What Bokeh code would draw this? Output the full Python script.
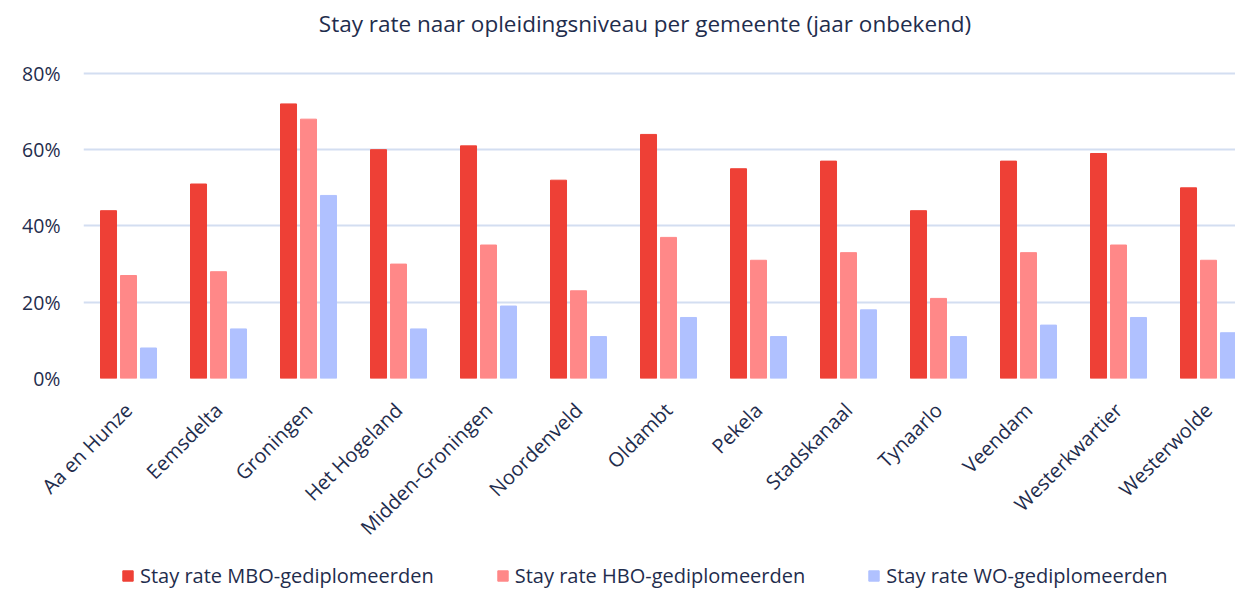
import math
from bokeh.plotting import figure
from bokeh.layouts import column
from bokeh.models import ColumnDataSource, Range1d, FixedTicker, Legend, LegendItem, Label
from bokeh.transform import dodge
from bokeh.embed import file_html
from bokeh.resources import INLINE

gemeenten = ["Aa en Hunze", "Eemsdelta", "Groningen", "Het Hogeland", "Midden-Groningen",
             "Noordenveld", "Oldambt", "Pekela", "Stadskanaal", "Tynaarlo", "Veendam",
             "Westerkwartier", "Westerwolde"]
mbo = [44, 51, 72, 60, 61, 52, 64, 55, 57, 44, 57, 59, 50]
hbo = [27, 28, 68, 30, 35, 23, 37, 31, 33, 21, 33, 35, 31]
wo = [8, 13, 48, 13, 19, 11, 16, 11, 18, 11, 14, 16, 12]
y_ticks = [0, 20, 40, 60, 80]
y_labels = ["0%", "20%", "40%", "60%", "80%"]
series_names = ["Stay rate MBO-gediplomeerden", "Stay rate HBO-gediplomeerden", "Stay rate WO-gediplomeerden"]
title_text = "Stay rate naar opleidingsniveau per gemeente (jaar onbekend)"
colors = ["#EE4036", "#FF8888", "#B0C1FF"]

TXT = "#1F2D4D"
FONT = "Open Sans"
W = 1235

idx = list(range(len(gemeenten)))
src = ColumnDataSource(dict(x=idx, mbo=mbo, hbo=hbo, wo=wo))


def blank(fig):
    fig.outline_line_color = None
    fig.xaxis.visible = False
    fig.yaxis.visible = False
    fig.grid.visible = False
    fig.background_fill_color = None
    fig.border_fill_color = None


# ---- title strip
tf = figure(width=W, height=44, output_backend="svg", toolbar_location=None,
            x_range=Range1d(0, W), y_range=Range1d(0, 44),
            min_border_left=0, min_border_right=0, min_border_top=0, min_border_bottom=0)
blank(tf)
tf.add_layout(Label(x=602, y=21, text=title_text, text_align="center", text_baseline="middle",
                    text_font=FONT, text_font_size="22.5px", text_color=TXT))

# ---- main chart
p = figure(width=W, height=512, output_backend="svg", toolbar_location=None,
           x_range=Range1d(-0.5, 12.3), y_range=Range1d(0, 80.5),
           min_border_left=83, min_border_right=0, min_border_top=27, min_border_bottom=178)
p.outline_line_color = None
p.background_fill_color = None
p.border_fill_color = None

w = 0.178
r1 = p.vbar(x=dodge("x", -0.222, range=p.x_range), top="mbo", width=w, source=src,
            fill_color=colors[0], line_color=colors[0])
r2 = p.vbar(x=dodge("x", 0.0, range=p.x_range), top="hbo", width=w, source=src,
            fill_color=colors[1], line_color=colors[1])
r3 = p.vbar(x=dodge("x", 0.222, range=p.x_range), top="wo", width=w, source=src,
            fill_color=colors[2], line_color=colors[2])

p.xaxis.ticker = FixedTicker(ticks=idx)
p.xaxis.major_label_overrides = {i: g for i, g in enumerate(gemeenten)}
p.xaxis.major_label_orientation = math.pi / 4
p.xaxis.axis_line_color = None
p.xaxis.major_tick_line_color = None
p.xaxis.minor_tick_line_color = None
p.xaxis.major_label_text_font = FONT
p.xaxis.major_label_text_font_size = "20px"
p.xaxis.major_label_text_color = TXT
p.xaxis.major_label_standoff = 22

p.yaxis.ticker = FixedTicker(ticks=y_ticks)
p.yaxis.major_label_overrides = {t: l for t, l in zip(y_ticks, y_labels)}
p.yaxis.axis_line_color = None
p.yaxis.major_tick_line_color = None
p.yaxis.minor_tick_line_color = None
p.yaxis.major_label_text_font = FONT
p.yaxis.major_label_text_font_size = "19.5px"
p.yaxis.major_label_text_color = TXT
p.yaxis.major_label_standoff = 17

p.xgrid.grid_line_color = None
p.ygrid.grid_line_color = "#D3DEF1"
p.ygrid.grid_line_width = 2

# ---- legend strip (hidden renderers provide the legend glyphs)
lf = figure(width=W, height=34, output_backend="svg", toolbar_location=None,
            x_range=Range1d(-0.5, 12.3), y_range=Range1d(0, 80),
            min_border_left=0, min_border_right=0, min_border_top=0, min_border_bottom=0)
blank(lf)
lrs = [lf.vbar(x="x", top=col, width=w, source=src, fill_color=c, line_color=c, visible=False)
       for col, c in zip(["mbo", "hbo", "wo"], colors)]
legend = Legend(items=[LegendItem(label=n, renderers=[r]) for n, r in zip(series_names, lrs)],
                orientation="horizontal", location=(38, 1),
                glyph_width=13, glyph_height=13, label_standoff=6, spacing=62,
                label_text_font=FONT, label_text_font_size="20px", label_text_color=TXT,
                border_line_color=None, background_fill_alpha=0, padding=0, margin=0,
                inactive_fill_alpha=0)
lf.add_layout(legend)

open("out.html", "w").write(file_html(column(tf, p, lf, spacing=0), INLINE))
